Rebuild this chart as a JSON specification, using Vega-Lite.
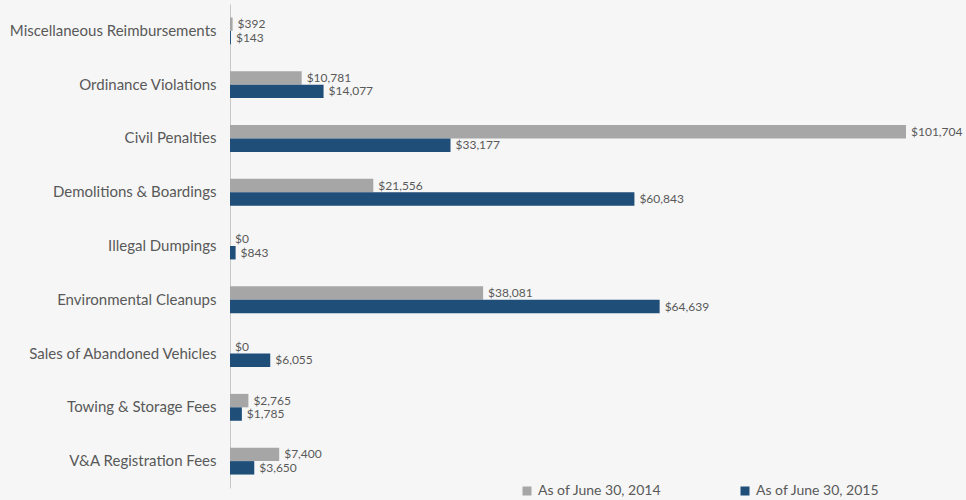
{
  "$schema": "https://vega.github.io/schema/vega-lite/v6.json",
  "width": 736,
  "height": 484,
  "autosize": {"type": "none"},
  "padding": {"left": 230, "top": 4, "right": 0, "bottom": 12},
  "background": "#f6f6f6",
  "config": {
    "view": {"stroke": null},
    "font": "Lato",
    "text": {"font": "Lato"}
  },
  "data": {
    "values": [
      {"category": "Miscellaneous Reimbursements", "series": "As of June 30, 2014", "value": 392},
      {"category": "Miscellaneous Reimbursements", "series": "As of June 30, 2015", "value": 143},
      {"category": "Ordinance Violations", "series": "As of June 30, 2014", "value": 10781},
      {"category": "Ordinance Violations", "series": "As of June 30, 2015", "value": 14077},
      {"category": "Civil Penalties", "series": "As of June 30, 2014", "value": 101704},
      {"category": "Civil Penalties", "series": "As of June 30, 2015", "value": 33177},
      {"category": "Demolitions & Boardings", "series": "As of June 30, 2014", "value": 21556},
      {"category": "Demolitions & Boardings", "series": "As of June 30, 2015", "value": 60843},
      {"category": "Illegal Dumpings", "series": "As of June 30, 2014", "value": 0},
      {"category": "Illegal Dumpings", "series": "As of June 30, 2015", "value": 843},
      {"category": "Environmental Cleanups", "series": "As of June 30, 2014", "value": 38081},
      {"category": "Environmental Cleanups", "series": "As of June 30, 2015", "value": 64639},
      {"category": "Sales of Abandoned Vehicles", "series": "As of June 30, 2014", "value": 0},
      {"category": "Sales of Abandoned Vehicles", "series": "As of June 30, 2015", "value": 6055},
      {"category": "Towing & Storage Fees", "series": "As of June 30, 2014", "value": 2765},
      {"category": "Towing & Storage Fees", "series": "As of June 30, 2015", "value": 1785},
      {"category": "V&A Registration Fees", "series": "As of June 30, 2014", "value": 7400},
      {"category": "V&A Registration Fees", "series": "As of June 30, 2015", "value": 3650}
    ]
  },
  "encoding": {
    "y": {
      "field": "category",
      "type": "nominal",
      "sort": null,
      "title": null,
      "scale": {"paddingInner": 0.5, "paddingOuter": 0.25},
      "axis": {
        "ticks": false,
        "labelPadding": 14,
        "labelFont": "Lato",
        "labelFontSize": 15,
        "labelColor": "#595959",
        "labelLimit": 300,
        "domainColor": "#c8c8c8",
        "domainWidth": 1,
        "grid": false
      }
    },
    "yOffset": {
      "field": "series",
      "type": "nominal",
      "sort": ["As of June 30, 2014", "As of June 30, 2015"],
      "scale": {"paddingInner": 0, "paddingOuter": 0}
    },
    "x": {
      "field": "value",
      "type": "quantitative",
      "scale": {"domain": [0, 110730], "nice": false, "zero": true},
      "axis": null
    }
  },
  "layer": [
    {
      "mark": {"type": "bar"},
      "encoding": {
        "color": {
          "field": "series",
          "type": "nominal",
          "scale": {
            "domain": ["As of June 30, 2014", "As of June 30, 2015"],
            "range": ["#a6a6a6", "#1f4e79"]
          },
          "legend": {
            "title": null,
            "orient": "none",
            "direction": "horizontal",
            "legendX": 290,
            "legendY": 480,
            "symbolType": "square",
            "symbolSize": 81,
            "symbolStrokeWidth": 0,
            "labelFont": "Lato",
            "labelFontSize": 14,
            "labelColor": "#595959",
            "labelOffset": 4,
            "columnPadding": 76
          }
        }
      }
    },
    {
      "mark": {"type": "text", "align": "left", "baseline": "middle", "dx": 5, "fontSize": 12, "color": "#595959", "font": "Lato"},
      "encoding": {
        "text": {"field": "value", "type": "quantitative", "format": "$,.0f"}
      }
    }
  ]
}
